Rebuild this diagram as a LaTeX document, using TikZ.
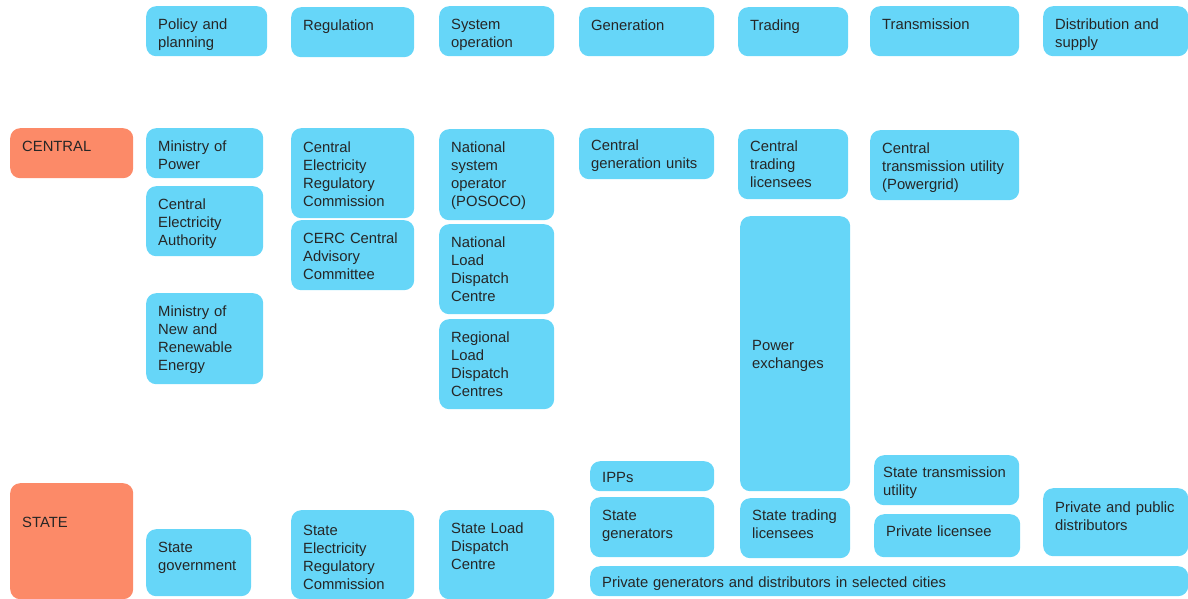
\documentclass[tikz,border=0pt]{standalone}
\usepackage{fontspec}
\setmainfont{Liberation Sans}
\usepackage{tikz}
\definecolor{sky}{HTML}{66D6F8}
\definecolor{salmon}{HTML}{FC8A68}
\definecolor{ink}{HTML}{262626}
\newcommand{\boxfont}{\fontsize{14.8}{18}\selectfont\hyphenpenalty=10000\exhyphenpenalty=10000}
\tikzset{
  bx/.style 2 args={fill=sky,rounded corners=10pt,anchor=north west,inner xsep=12pt,inner ysep=0pt,
    align=left,text width=#1pt-24pt,text height=23pt,text depth=#2pt-23pt,font=\boxfont,text=ink},
  lvl/.style 2 args={bx={#1}{#2},fill=salmon}
}
\begin{document}
\begin{tikzpicture}[x=1pt,y=-1pt]
\useasboundingbox (0,0) rectangle (1188,599);
% column headers
\node[bx={121}{50}] (policy) at (146,6) {Policy and\\planning};
\node[bx={123}{50}] (regul) at (291,7) {Regulation};
\node[bx={115}{50}] (sysop) at (439,6) {System\\operation};
\node[bx={135}{49}] (gen) at (579,7) {Generation};
\node[bx={110}{49}] (trade) at (738,7) {Trading};
\node[bx={149}{50}] (trans) at (870,6) {Transmission};
\node[bx={145}{50}] (distr) at (1043,6) {Distribution and\\supply};
% levels
\node[lvl={123}{50}] (central) at (10,128) {CENTRAL};
\node[lvl={123}{116},text height=44pt,text depth=72pt] (state) at (10,483) {STATE};
% policy and planning
\node[bx={117}{50}] (mop) at (146,128) {Ministry of\\Power};
\node[bx={117}{70}] (cea) at (146,186) {Central\\Electricity\\Authority};
\node[bx={117}{91}] (mnre) at (146,293) {Ministry of\\New and\\Renewable\\Energy};
\node[bx={105}{67}] (stgov) at (146,529) {State\\government};
% regulation
\node[bx={123}{90},text height=24pt,text depth=66pt] (cerc) at (291,128) {Central\\Electricity\\Regulatory\\Commission};
\node[bx={123}{70}] (cac) at (291,220) {CERC Central\\Advisory\\Committee};
\node[bx={123}{89},text height=25pt,text depth=64pt] (serc) at (291,510) {State\\Electricity\\Regulatory\\Commission};
% system operation
\node[bx={115}{91}] (posoco) at (439,129) {National\\system\\operator\\(POSOCO)};
\node[bx={115}{90}] (nldc) at (439,224) {National\\Load\\Dispatch\\Centre};
\node[bx={115}{90}] (rldc) at (439,319) {Regional\\Load\\Dispatch\\Centres};
\node[bx={115}{89}] (sldc) at (439,510) {State Load\\Dispatch\\Centre};
% generation
\node[bx={135}{51},text height=22pt,text depth=29pt] (cgu) at (579,128) {Central\\generation units};
\node[bx={124}{30},text height=21pt,text depth=9pt] (ipp) at (590,461) {IPPs};
\node[bx={124}{60}] (stgen) at (590,497) {State\\generators};
\node[bx={598}{30},text height=21pt,text depth=9pt] (privgen) at (590,566) {Private generators and distributors in selected cities};
% trading
\node[bx={110}{70},text height=22pt,text depth=48pt] (ctl) at (738,129) {Central\\trading\\licensees};
\node[bx={110}{275},text height=134pt,text depth=141pt] (px) at (740,216) {Power\\exchanges};
\node[bx={110}{60},text height=22pt,text depth=38pt] (stl) at (740,498) {State trading\\licensees};
% transmission
\node[bx={149}{70}] (ctu) at (870,130) {Central\\transmission utility\\(Powergrid)};
\node[bx={145}{50},inner xsep=9pt,text width=127pt,text height=22pt,text depth=28pt] (stu) at (874,455) {State transmission\\utility};
\node[bx={146}{43},text height=22pt,text depth=21pt] (privlic) at (874,514) {Private licensee};
% distribution
\node[bx={145}{68},text height=24pt,text depth=44pt] (ppd) at (1043,488) {Private and public\\distributors};
\end{tikzpicture}
\end{document}
